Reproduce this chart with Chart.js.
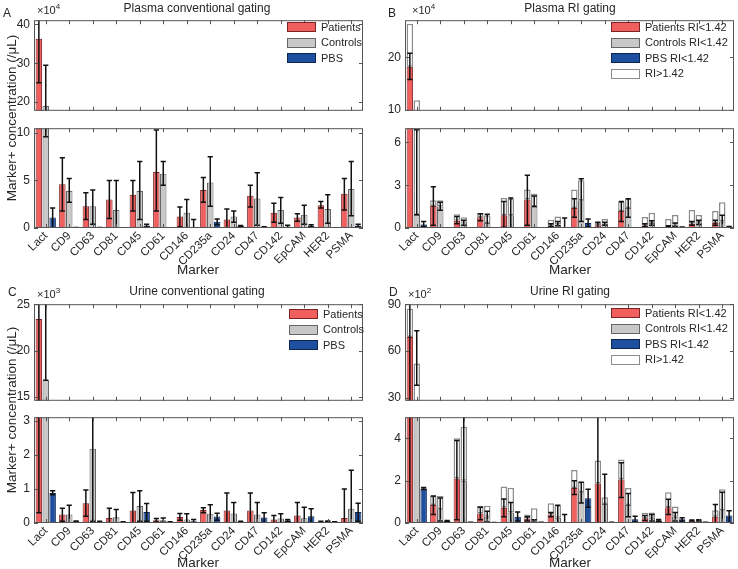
<!DOCTYPE html>
<html>
<head>
<meta charset="utf-8">
<script src="https://cdn.jsdelivr.net/npm/chart.js@4.4.1/dist/chart.umd.min.js"></script>
<style>
  body { margin: 0; background: #fff; }
  #fig { position: relative; width: 738px; height: 569px; overflow: hidden;
         font-family: 'Liberation Sans', Arial, Helvetica, sans-serif; color: #262626; }
  #fig canvas { position: absolute; }
  .txt { position: absolute; white-space: nowrap; line-height: 1; }
  .lbox { position: absolute; width: 29px; height: 10px; box-sizing: border-box; }
  sup { font-size: 8px; vertical-align: 5px; }
</style>
</head>
<body>
<div id="fig"></div>
<script>
// markers (x categories)
const markers = ['Lact', 'CD9', 'CD63', 'CD81', 'CD45', 'CD61', 'CD146', 'CD235a', 'CD24', 'CD47', 'CD142', 'EpCAM', 'HER2', 'PSMA'];

// A: plasma, conventional gating (x10^4 /uL) - mean, error low, error high
const plasmaConvP   = [36.3, 4.6, 2.3, 3.0, 3.5, 5.9, 1.2, 4.0, 0.9, 3.4, 1.6, 1.1, 2.4, 3.6];
const plasmaConvPLo = [25.0, 1.8, 0.9, 1.0, 1.8, 1.8, 0.1, 2.7, 0.0, 2.2, 0.6, 0.7, 2.1, 1.9];
const plasmaConvPHi = [45.0, 7.4, 3.7, 5.0, 5.0, 10.3, 2.2, 5.3, 2.0, 4.5, 2.6, 1.5, 2.8, 5.2];
const plasmaConvC   = [19.0, 3.9, 2.3, 1.9, 3.9, 5.7, 1.6, 4.8, 1.2, 3.1, 1.9, 1.4, 2.0, 4.1];
const plasmaConvCLo = [9.6, 2.7, 0.4, 0.0, 0.9, 4.5, 0.0, 2.3, 0.6, 0.3, 0.5, 0.4, 0.5, 1.3];
const plasmaConvCHi = [29.5, 5.2, 4.0, 5.0, 7.0, 7.0, 3.0, 7.5, 1.8, 5.8, 3.2, 2.4, 3.5, 7.0];
const plasmaConvB   = [1.1, 0.05, 0.05, 0.03, 0.25, 0.03, 0.02, 0.65, 0.2, 0.1, 0.15, 0.25, 0.03, 0.25];
const plasmaConvBLo = [0.0, 0.05, 0.05, 0.03, 0.1, 0.03, 0.0, 0.35, 0.15, 0.08, 0.0, 0.1, 0.03, 0.1];
const plasmaConvBHi = [2.1, 0.05, 0.05, 0.03, 0.4, 0.03, 0.9, 0.95, 0.25, 0.12, 0.3, 0.35, 0.03, 0.4];

// B: plasma, RI gating (x10^4 /uL) - RI<1.42 part, total, error low/high
const plasmaRiPLow  = [18.2, 1.55, 0.5, 0.75, 0.9, 2.0, 0.18, 1.4, 0.2, 1.2, 0.18, 0.1, 0.3, 0.35];
const plasmaRiPTot  = [26.4, 1.95, 0.97, 1.05, 2.1, 2.7, 0.58, 2.7, 0.38, 1.85, 0.78, 0.63, 1.26, 1.2];
const plasmaRiPLo   = [15.8, 0.2, 0.3, 0.5, 0.05, 0.2, 0.1, 0.75, 0.0, 0.45, 0.1, 0.05, 0.2, 0.2];
const plasmaRiPHi   = [20.8, 2.9, 0.8, 1.0, 1.85, 3.7, 0.3, 2.05, 0.4, 1.85, 0.3, 0.15, 0.45, 0.55];
const plasmaRiCLow  = [0.93, 1.5, 0.45, 0.35, 0.9, 1.5, 0.25, 1.95, 0.3, 1.4, 0.35, 0.25, 0.4, 0.45];
const plasmaRiCTot  = [11.8, 1.95, 0.75, 0.9, 2.05, 2.4, 0.8, 3.35, 0.63, 2.05, 1.07, 0.92, 0.92, 1.8];
const plasmaRiCLo   = [0.93, 1.25, 0.2, 0.0, 0.0, 1.5, 0.15, 0.45, 0.2, 0.75, 0.2, 0.1, 0.25, 0.0];
const plasmaRiCHi   = [6.9, 1.8, 0.55, 0.97, 2.1, 2.25, 0.45, 3.45, 0.4, 2.05, 0.5, 0.35, 0.55, 0.9];
const plasmaRiBLow  = [0.25, 0.02, 0.02, 0.02, 0.02, 0.02, 0.02, 0.35, 0.02, 0.02, 0.02, 0.05, 0.02, 0.05];
const plasmaRiBTot  = [0.3, 0.02, 0.02, 0.02, 0.02, 0.02, 0.02, 0.35, 0.02, 0.02, 0.02, 0.05, 0.02, 0.05];
const plasmaRiBLo   = [0.1, 0.02, 0.02, 0.02, 0.02, 0.02, 0.0, 0.07, 0.02, 0.02, 0.02, 0.03, 0.02, 0.0];
const plasmaRiBHi   = [0.45, 0.02, 0.02, 0.02, 0.02, 0.02, 0.7, 0.63, 0.02, 0.02, 0.02, 0.07, 0.02, 0.1];

// C: urine, conventional gating (x10^3 /uL)
const urineConvP   = [23.4, 0.25, 0.58, 0.15, 0.37, 0.08, 0.18, 0.38, 0.37, 0.37, 0.1, 0.22, 0.04, 0.15];
const urineConvPLo = [0.3, 0.05, 0.2, 0.0, 0.0, 0.03, 0.08, 0.3, 0.0, 0.0, 0.0, 0.0, 0.03, 0.0];
const urineConvPHi = [30.0, 0.43, 0.97, 0.43, 0.9, 0.13, 0.28, 0.45, 0.88, 0.88, 0.22, 0.6, 0.05, 1.0];
const urineConvC   = [16.8, 0.25, 2.18, 0.17, 0.5, 0.08, 0.1, 0.27, 0.28, 0.25, 0.13, 0.14, 0.05, 0.42];
const urineConvCLo = [16.8, 0.0, 0.05, 0.0, 0.05, 0.02, 0.0, 0.0, 0.0, 0.0, 0.0, 0.0, 0.04, 0.0];
const urineConvCHi = [30.0, 0.52, 4.3, 0.4, 0.95, 0.15, 0.27, 0.54, 0.6, 0.6, 0.27, 0.46, 0.06, 1.55];
const urineConvB   = [0.88, 0.05, 0.04, 0.03, 0.32, 0.03, 0.05, 0.19, 0.04, 0.16, 0.08, 0.2, 0.03, 0.32];
const urineConvBLo = [0.83, 0.04, 0.03, 0.02, 0.05, 0.02, 0.0, 0.08, 0.03, 0.0, 0.04, 0.0, 0.02, 0.05];
const urineConvBHi = [0.95, 0.06, 0.05, 0.04, 0.57, 0.04, 0.1, 0.29, 0.05, 0.3, 0.1, 0.42, 0.04, 0.58];

// D: urine, RI gating (x10^2 /uL)
const urineRiPLow = [69, 0.85, 2.1, 0.45, 0.72, 0.2, 0.4, 1.65, 1.87, 2.05, 0.22, 0.75, 0.12, 0.3];
const urineRiPTot = [87, 1.28, 4.0, 0.82, 1.73, 0.4, 0.93, 2.5, 2.95, 3.0, 0.48, 1.45, 0.12, 0.6];
const urineRiPLo  = [0, 0.4, 0.15, 0.15, 0.3, 0.1, 0.3, 1.35, 0.0, 1.2, 0.12, 0.4, 0.1, 0.0];
const urineRiPHi  = [120, 1.28, 3.9, 0.75, 1.13, 0.3, 0.5, 2.0, 5.5, 2.85, 0.35, 1.12, 0.14, 0.88];
const urineRiCLow = [15, 0.65, 2.0, 0.3, 0.5, 0.1, 0.25, 1.45, 0.9, 0.85, 0.25, 0.3, 0.12, 0.6];
const urineRiCTot = [52, 1.28, 4.55, 0.82, 1.67, 0.7, 0.84, 1.95, 1.22, 1.65, 0.5, 0.78, 0.12, 1.6];
const urineRiCLo  = [38, 0.1, 0.0, 0.05, 0.0, 0.0, 0.0, 0.95, 0.0, 0.3, 0.1, 0.1, 0.1, 0.0];
const urineRiCHi  = [73, 1.18, 5.5, 0.55, 0.97, 0.15, 0.84, 1.92, 2.3, 1.4, 0.4, 0.5, 0.15, 1.45];
const urineRiBLow = [1.62, 0.1, 0.03, 0.01, 0.3, 0.02, 0.02, 1.17, 0.03, 0.18, 0.12, 0.18, 0.02, 0.35];
const urineRiBTot = [1.65, 0.1, 0.03, 0.01, 0.3, 0.02, 0.02, 1.17, 0.03, 0.18, 0.12, 0.2, 0.02, 0.35];
const urineRiBLo  = [1.58, 0.08, 0.02, 0.0, 0.1, 0.01, 0.0, 0.75, 0.02, 0.05, 0.08, 0.1, 0.01, 0.0];
const urineRiBHi  = [1.68, 0.12, 0.04, 0.02, 0.52, 0.03, 0.4, 1.6, 0.04, 0.32, 0.17, 0.25, 0.03, 0.58];

const RED = '#f05e5e', RED_EDGE = '#7a2424';
const GRAY = '#c8c8c8', GRAY_EDGE = '#666666';
const BLUE = '#1f50a0', BLUE_EDGE = '#0c2650';
const WHITE = '#ffffff', WHITE_EDGE = '#8c8c8c';

Chart.defaults.font.family = "'Liberation Sans', Arial, Helvetica, sans-serif";
Chart.defaults.font.size = 12;
Chart.defaults.color = '#262626';

const fig = document.getElementById('fig');

// error bars from errLo/errHi on a dataset, drawn through the y scale
const errorBars = {
  id: 'errorBars',
  afterDatasetsDraw(chart) {
    const { ctx, chartArea: a } = chart;
    ctx.save();
    ctx.beginPath();
    ctx.rect(a.left, a.top, a.right - a.left, a.bottom - a.top);
    ctx.clip();
    ctx.strokeStyle = '#111';
    ctx.lineWidth = 1.5;
    chart.data.datasets.forEach((ds, di) => {
      if (!ds.errLo) return;
      const meta = chart.getDatasetMeta(di);
      const ys = chart.scales[meta.yAxisID];
      meta.data.forEach((bar, i) => {
        const lo = ys.getPixelForValue(ds.errLo[i]);
        const hi = ys.getPixelForValue(ds.errHi[i]);
        const cx = bar.x, w = 2.6;
        ctx.beginPath();
        ctx.moveTo(cx, lo); ctx.lineTo(cx, hi);
        ctx.moveTo(cx - w, lo); ctx.lineTo(cx + w, lo);
        ctx.moveTo(cx - w, hi); ctx.lineTo(cx + w, hi);
        ctx.stroke();
      });
    });
    ctx.restore();
  }
};

// matlab style box with inward ticks
const boxTicks = {
  id: 'boxTicks',
  afterDraw(chart) {
    const { ctx, chartArea: a, scales: { x, y } } = chart;
    ctx.save();
    ctx.strokeStyle = '#555';
    ctx.lineWidth = 1;
    ctx.strokeRect(a.left + 0.5, a.top + 0.5, a.right - a.left - 1, a.bottom - a.top - 1);
    ctx.beginPath();
    x.ticks.forEach((t, i) => {
      const px = Math.round(x.getPixelForTick(i)) + 0.5;
      ctx.moveTo(px, a.top); ctx.lineTo(px, a.top + 4);
      ctx.moveTo(px, a.bottom); ctx.lineTo(px, a.bottom - 4);
    });
    y.ticks.forEach((t, i) => {
      const py = Math.round(y.getPixelForTick(i)) + 0.5;
      ctx.moveTo(a.left, py); ctx.lineTo(a.left + 4, py);
      ctx.moveTo(a.right, py); ctx.lineTo(a.right - 4, py);
    });
    ctx.stroke();
    ctx.restore();
  }
};

function makeAxes({ left, top, width, height, min, max, step, showX, stacked, datasets }) {
  const padL = 30, padT = 6, padR = 6;
  const xH = showX ? 40 : 0, padB = showX ? 0 : 3;
  const cw = width + padL + padR, ch = height + padT + xH + padB;
  const cv = document.createElement('canvas');
  cv.width = cw; cv.height = ch;
  cv.style.left = (left - padL) + 'px';
  cv.style.top = (top - padT) + 'px';
  cv.style.width = cw + 'px';
  cv.style.height = ch + 'px';
  fig.appendChild(cv);
  new Chart(cv, {
    type: 'bar',
    data: { labels: markers, datasets },
    options: {
      responsive: false,
      devicePixelRatio: 1,
      animation: false,
      layout: { padding: { left: 0, top: padT, right: padR, bottom: padB } },
      plugins: { legend: { display: false }, tooltip: { enabled: false } },
      datasets: { bar: { categoryPercentage: 0.88, barPercentage: 0.94, borderSkipped: false, clip: 0 } },
      scales: {
        x: {
          stacked,
          grid: { display: false, drawTicks: false },
          border: { display: false },
          ticks: { display: showX, autoSkip: false, minRotation: 45, maxRotation: 45, padding: 1, font: { size: 11.5 } },
          afterFit: s => { s.height = xH; }
        },
        y: {
          stacked, min, max,
          grid: { display: false, drawTicks: false },
          border: { display: false },
          ticks: { stepSize: step, includeBounds: false, padding: 4 },
          afterFit: s => { s.width = padL; }
        }
      }
    },
    plugins: [errorBars, boxTicks]
  });
}

function convSets(p, pLo, pHi, c, cLo, cHi, b, bLo, bHi) {
  return [
    { data: p, errLo: pLo, errHi: pHi, backgroundColor: RED, borderColor: RED_EDGE, borderWidth: 1 },
    { data: c, errLo: cLo, errHi: cHi, backgroundColor: GRAY, borderColor: GRAY_EDGE, borderWidth: 1 },
    { data: b, errLo: bLo, errHi: bHi, backgroundColor: BLUE, borderColor: BLUE_EDGE, borderWidth: 1 }
  ];
}

function riSets(pLow, pTot, pLo, pHi, cLow, cTot, cLo, cHi, bLow, bTot, bLo, bHi) {
  const rest = (tot, low) => tot.map((v, i) => Math.max(v - low[i], 0));
  return [
    { stack: 'p', data: pLow, errLo: pLo, errHi: pHi, backgroundColor: RED, borderColor: RED_EDGE, borderWidth: 1 },
    { stack: 'c', data: cLow, errLo: cLo, errHi: cHi, backgroundColor: GRAY, borderColor: GRAY_EDGE, borderWidth: 1 },
    { stack: 'b', data: bLow, errLo: bLo, errHi: bHi, backgroundColor: BLUE, borderColor: BLUE_EDGE, borderWidth: 1 },
    { stack: 'p', data: rest(pTot, pLow), backgroundColor: WHITE, borderColor: WHITE_EDGE, borderWidth: 1.5 },
    { stack: 'c', data: rest(cTot, cLow), backgroundColor: WHITE, borderColor: WHITE_EDGE, borderWidth: 1.5 },
    { stack: 'b', data: rest(bTot, bLow), backgroundColor: WHITE, borderColor: WHITE_EDGE, borderWidth: 1.5 }
  ];
}

function text(html, x, y, size, extra) {
  const d = document.createElement('div');
  d.className = 'txt';
  d.innerHTML = html;
  d.style.left = x + 'px';
  d.style.top = y + 'px';
  d.style.fontSize = size + 'px';
  if (extra) Object.assign(d.style, extra);
  fig.appendChild(d);
  return d;
}

function centered(html, cx, cy, size, rotate) {
  return text(html, cx, cy, size, { transform: 'translate(-50%,-50%)' + (rotate ? ' rotate(-90deg)' : '') });
}

function legend(x, y, items) {
  items.forEach(([label, fill, edge], i) => {
    const b = document.createElement('div');
    b.className = 'lbox';
    b.style.left = x + 'px';
    b.style.top = (y + i * 15.5) + 'px';
    b.style.background = fill;
    b.style.border = '1.3px solid ' + edge;
    fig.appendChild(b);
    text(label, x + 34, y + i * 15.5 - 0.5, 11);
  });
}

// ---- panel A
const dsA = () => convSets(plasmaConvP, plasmaConvPLo, plasmaConvPHi, plasmaConvC, plasmaConvCLo, plasmaConvCHi, plasmaConvB, plasmaConvBLo, plasmaConvBHi);
makeAxes({ left: 34, top: 15, width: 329, height: 104, min: 17.75, max: 41.1, step: 10, showX: false, stacked: false, datasets: dsA() });
makeAxes({ left: 34, top: 123, width: 329, height: 105, min: 0, max: 10.5, step: 5, showX: true, stacked: false, datasets: dsA() });

// ---- panel B
const dsB = () => riSets(plasmaRiPLow, plasmaRiPTot, plasmaRiPLo, plasmaRiPHi, plasmaRiCLow, plasmaRiCTot, plasmaRiCLo, plasmaRiCHi, plasmaRiBLow, plasmaRiBTot, plasmaRiBLo, plasmaRiBHi);
makeAxes({ left: 405, top: 15, width: 329, height: 104, min: 9.8, max: 27.1, step: 10, showX: false, stacked: true, datasets: dsB() });
makeAxes({ left: 405, top: 123, width: 329, height: 105, min: 0, max: 7, step: 3, showX: true, stacked: true, datasets: dsB() });

// ---- panel C
const dsC = () => convSets(urineConvP, urineConvPLo, urineConvPHi, urineConvC, urineConvCLo, urineConvCHi, urineConvB, urineConvBLo, urineConvBHi);
makeAxes({ left: 34, top: 299, width: 329, height: 110, min: 14.6, max: 25, step: 5, showX: false, stacked: false, datasets: dsC() });
makeAxes({ left: 34, top: 412, width: 329, height: 111, min: 0, max: 3.11, step: 1, showX: true, stacked: false, datasets: dsC() });

// ---- panel D
const dsD = () => riSets(urineRiPLow, urineRiPTot, urineRiPLo, urineRiPHi, urineRiCLow, urineRiCTot, urineRiCLo, urineRiCHi, urineRiBLow, urineRiBTot, urineRiBLo, urineRiBHi);
makeAxes({ left: 405, top: 299, width: 329, height: 110, min: 28, max: 90, step: 30, showX: false, stacked: true, datasets: dsD() });
makeAxes({ left: 405, top: 412, width: 329, height: 111, min: 0, max: 5, step: 2, showX: true, stacked: true, datasets: dsD() });

// ---- text
text('A', 3, 7, 12);
text('B', 388, 7, 12);
text('C', 8, 286, 12);
text('D', 389, 286, 12);

centered('Plasma conventional gating', 197, 8, 12);
centered('Plasma RI gating', 570, 8, 12);
centered('Urine conventional gating', 197, 291, 12);
centered('Urine RI gating', 570, 291, 12);

text('×10<sup>4</sup>', 37, 3, 11);
text('×10<sup>4</sup>', 412, 3, 11);
text('×10<sup>3</sup>', 37, 287, 11);
text('×10<sup>2</sup>', 408, 287, 11);

centered('Marker+ concentration (/μL)', 12, 118, 13.5, true);
centered('Marker+ concentration (/μL)', 12, 410, 13.5, true);

centered('Marker', 198, 270, 13.5);
centered('Marker', 570, 270, 13.5);
centered('Marker', 198, 563, 13.5);
centered('Marker', 570, 563, 13.5);

legend(287, 22, [['Patients', RED, RED_EDGE], ['Controls', GRAY, GRAY_EDGE], ['PBS', BLUE, BLUE_EDGE]]);
legend(611, 22, [['Patients RI&lt;1.42', RED, RED_EDGE], ['Controls RI&lt;1.42', GRAY, GRAY_EDGE], ['PBS RI&lt;1.42', BLUE, BLUE_EDGE], ['RI&gt;1.42', WHITE, WHITE_EDGE]]);
legend(289, 309, [['Patients', RED, RED_EDGE], ['Controls', GRAY, GRAY_EDGE], ['PBS', BLUE, BLUE_EDGE]]);
legend(611, 308, [['Patients RI&lt;1.42', RED, RED_EDGE], ['Controls RI&lt;1.42', GRAY, GRAY_EDGE], ['PBS RI&lt;1.42', BLUE, BLUE_EDGE], ['RI&gt;1.42', WHITE, WHITE_EDGE]]);
</script>
</body>
</html>
